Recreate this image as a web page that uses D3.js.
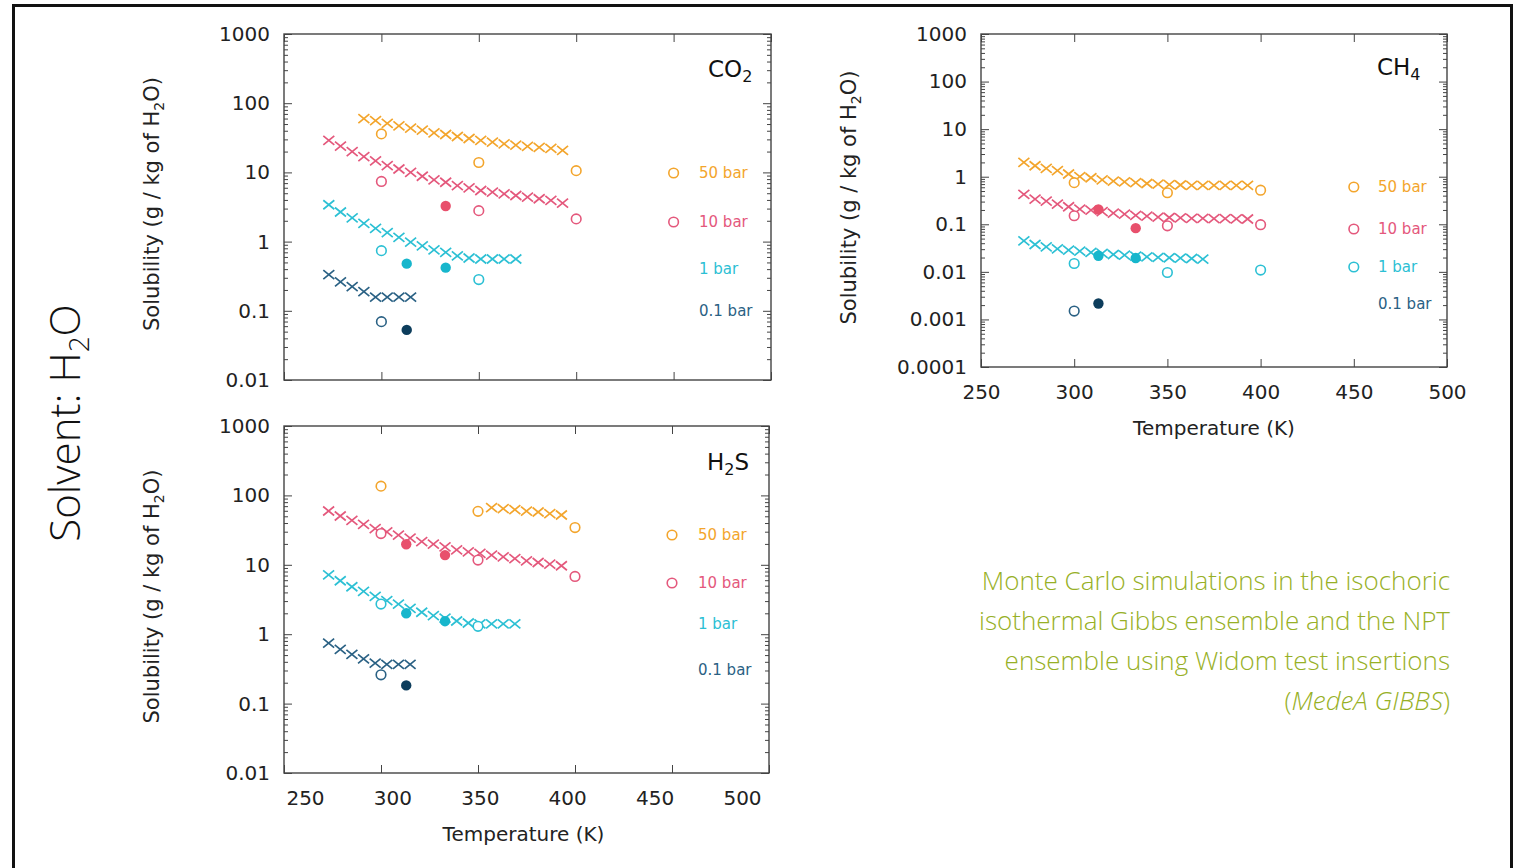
<!DOCTYPE html>
<html>
<head>
<meta charset="utf-8">
<script src="https://cdn.jsdelivr.net/npm/d3@7/dist/d3.min.js"></script>
<style>
body { margin:0; background:#fff; }
svg { display:block; }
</style>
</head>
<body>
<div id="chart"></div>
<script>
// temperatures (K)
var tCross = [273,279,285,291,297,303,309,315,321,327,333,339,345,351,357,363,369,375,381,387,393];
var tSim = [300,350,400];
var tExp = [313,333];

var xTicks = [250,300,350,400,450,500];
var yTicks = [0.0001,0.001,0.01,0.1,1,10,100,1000];
var pressures = ["50 bar","10 bar","1 bar","0.1 bar"];
var lineColors = ["#F3A52C","#E4587C","#2CC0D4","#2A6184"];
var dotColors = ["#F3A52C","#E8506C","#17B6CC","#0D3D5C"];

// CO2 solubility (g / kg of H2O)
var co2X50 = [60,56,51,47,43.5,40.7,37.3,35.3,33,30.9,29,27.4,25.9,24.8,23.8,23,22.3,20.8];
var co2X10 = [29,24,20,16.9,14.7,12.5,11.2,10,8.8,7.8,7.2,6.45,5.97,5.47,5.18,4.9,4.64,4.4,4.16,3.94,3.6];
var co2X1 = [3.41,2.68,2.2,1.83,1.55,1.35,1.15,0.98,0.87,0.76,0.70,0.62,0.58,0.56,0.56,0.56,0.56];
var co2X01 = [0.334,0.262,0.223,0.189,0.158,0.158,0.158,0.158];
var co2S50 = [36,13.9,10.6];
var co2S10 = [7.4,2.8,2.13];
var co2S1 = [0.74,0.283,null];
var co2S01 = [0.0697,null,null];
var co2E10 = [null,3.27];
var co2E1 = [0.48,0.42];
var co2E01 = [0.053,null];

// CH4
var ch4X50 = [2.0,1.7,1.5,1.34,1.14,1.0,0.95,0.86,0.81,0.78,0.75,0.72,0.7,0.68,0.67,0.66,0.66,0.66,0.66,0.66,0.66];
var ch4X10 = [0.425,0.339,0.308,0.266,0.234,0.209,0.199,0.184,0.172,0.164,0.154,0.149,0.142,0.139,0.136,0.133,0.133,0.131,0.131,0.13,0.129];
var ch4X1 = [0.045,0.0376,0.0336,0.0305,0.0286,0.0273,0.0256,0.0244,0.0232,0.0225,0.0214,0.0207,0.0201,0.0198,0.0195,0.0191,0.0185];
var ch4S50 = [0.75,0.46,0.52];
var ch4S10 = [0.151,0.093,0.098];
var ch4S1 = [0.015,0.0097,0.0109];
var ch4S01 = [0.0015,null,null];
var ch4E10 = [0.206,0.083];
var ch4E1 = [0.0218,0.0195];
var ch4E01 = [0.00216,null];

// H2S
var h2sX50 = [66.6,64.4,62.3,59.5,57.6,54.6,52.2];
var h2sX10 = [59.6,50.5,43.7,38.3,33.3,29.8,26.7,24.2,21.6,19.8,18.1,16.4,15.4,14.6,13.8,13.0,12.3,11.4,10.8,10.2,9.7];
var h2sX1 = [7.18,5.89,4.83,4.14,3.51,3.04,2.72,2.36,2.07,1.85,1.70,1.55,1.45,1.41,1.41,1.41,1.41];
var h2sX01 = [0.743,0.603,0.511,0.442,0.384,0.367,0.367,0.367];
var h2sS50 = [136,58.9,34.4];
var h2sS10 = [28.2,11.7,6.8];
var h2sS1 = [2.72,1.30,null];
var h2sS01 = [0.26,null,null];
var h2sE10 = [19.8,13.8];
var h2sE1 = [2.0,1.54];
var h2sE01 = [0.183,null];

var svg = d3.select("#chart").append("svg")
	.attr("width",1521)
	.attr("height",868);

// slide frame
svg.append("rect")
	.attr("x",13.5).attr("y",5.5)
	.attr("width",1498).attr("height",900)
	.attr("fill","none").attr("stroke","#111").attr("stroke-width",3);

var tickFont = "DejaVu Sans, Verdana, sans-serif";

var panels = [
	{name:"CO", sub:"2", after:"", left:284, top:34, w:487, h:346, yMin:0.01,
	 nameX:424, nameY:43, xLabels:null, legX:415,
	 legend:[[0,139,true],[1,188,true],[2,235,false],[3,277,false]],
	 series:[[0,co2X50,3,co2S50,[null,null]],[1,co2X10,0,co2S10,co2E10],[2,co2X1,0,co2S1,co2E1],[3,co2X01,0,co2S01,co2E01]]},
	{name:"CH", sub:"4", after:"", left:981, top:34, w:466, h:333, yMin:0.0001,
	 nameX:396, nameY:41, xLabels:[0,466], legX:397,
	 legend:[[0,153,true],[1,195,true],[2,233,true],[3,270,false]],
	 series:[[0,ch4X50,0,ch4S50,[null,null]],[1,ch4X10,0,ch4S10,ch4E10],[2,ch4X1,0,ch4S1,ch4E1],[3,[],0,ch4S01,ch4E01]]},
	{name:"H", sub:"2", after:"S", left:284, top:426, w:485, h:347, yMin:0.01,
	 nameX:423, nameY:44, xLabels:[21,458], legX:414,
	 legend:[[0,109,true],[1,157,true],[2,198,false],[3,244,false]],
	 series:[[0,h2sX50,14,h2sS50,[null,null]],[1,h2sX10,0,h2sS10,h2sE10],[2,h2sX1,0,h2sS1,h2sE1],[3,h2sX01,0,h2sS01,h2sE01]]}
];

var isMajor = v => Math.abs(Math.log10(v) - Math.round(Math.log10(v))) < 1e-6;

function styleAxis(sel) {
	sel.select(".domain").remove();
	sel.selectAll("line").attr("stroke","#444").attr("stroke-width",1);
	sel.selectAll("text").attr("font-family",tickFont).attr("font-size",20).attr("fill","#222");
}

function yTitle(g, p) {
	var t = g.append("text")
		.attr("transform","translate("+(-125)+","+(p.h/2 - 3)+") rotate(-90)")
		.attr("text-anchor","middle")
		.attr("font-family",tickFont).attr("font-size",21).attr("fill","#222");
	t.append("tspan").text("Solubility (g / kg of H");
	t.append("tspan").text("2").attr("font-size",14).attr("dy",5);
	t.append("tspan").text("O)").attr("dy",-5);
}

function xTitle(g, p, cx) {
	g.append("text")
		.attr("x",cx).attr("y",p.h+68)
		.attr("text-anchor","middle")
		.attr("font-family",tickFont).attr("font-size",20).attr("fill","#222")
		.text("Temperature (K)");
}

panels.forEach(p => {
	var g = svg.append("g").attr("transform","translate("+p.left+","+p.top+")");
	var x = d3.scaleLinear().domain([250,500]).range([0,p.w]);
	var y = d3.scaleLog().domain([p.yMin,1000]).range([p.h,0]);
	var major = yTicks.filter(v => v >= p.yMin);
	var minor = y.ticks().filter(v => !isMajor(v));

	g.append("g").call(d3.axisLeft(y).tickValues(major).tickSize(-8).tickPadding(14).tickFormat(d => String(d))).call(styleAxis);
	g.append("g").call(d3.axisLeft(y).tickValues(minor).tickSize(-4).tickFormat("")).call(styleAxis);
	g.append("g").attr("transform","translate("+p.w+",0)").call(d3.axisRight(y).tickValues(major).tickSize(-8).tickFormat("")).call(styleAxis);
	g.append("g").attr("transform","translate("+p.w+",0)").call(d3.axisRight(y).tickValues(minor).tickSize(-4).tickFormat("")).call(styleAxis);
	g.append("g").call(d3.axisTop(x).tickValues(xTicks).tickSize(-8).tickFormat("")).call(styleAxis);
	g.append("g").attr("transform","translate(0,"+p.h+")").call(d3.axisBottom(x).tickValues(xTicks).tickSize(-8).tickFormat("")).call(styleAxis);

	if (p.xLabels) {
		var xl = d3.scaleLinear().domain([250,500]).range(p.xLabels);
		g.append("g").attr("transform","translate(0,"+p.h+")")
			.call(d3.axisBottom(xl).tickValues(xTicks).tickSize(0).tickPadding(18).tickFormat(d => String(d)))
			.call(styleAxis);
		xTitle(g, p, (p.xLabels[0]+p.xLabels[1])/2);
	}

	g.append("rect").attr("width",p.w).attr("height",p.h)
		.attr("fill","none").attr("stroke","#444").attr("stroke-width",1.4);

	yTitle(g, p);

	// crosses
	p.series.forEach(s => {
		var pts = s[1].map((v,i) => ({T:tCross[s[2]+i], v:v}));
		g.append("g").selectAll("path").data(pts).enter().append("path")
			.attr("d","M-5.5,-4.5L5.5,4.5M-5.5,4.5L5.5,-4.5")
			.attr("transform",d => "translate("+x(d.T)+","+y(d.v)+")")
			.attr("fill","none").attr("stroke",lineColors[s[0]]).attr("stroke-width",1.7);
	});
	// open circles (simulations)
	p.series.forEach(s => {
		var pts = tSim.map((T,i) => ({T:T, v:s[3][i]})).filter(d => d.v != null);
		g.append("g").selectAll("circle").data(pts).enter().append("circle")
			.attr("cx",d => x(d.T)).attr("cy",d => y(d.v)).attr("r",4.8)
			.attr("fill","#fff").attr("stroke",lineColors[s[0]]).attr("stroke-width",1.6);
	});
	// filled circles
	p.series.forEach(s => {
		var pts = tExp.map((T,i) => ({T:T, v:s[4][i]})).filter(d => d.v != null);
		g.append("g").selectAll("circle").data(pts).enter().append("circle")
			.attr("cx",d => x(d.T)).attr("cy",d => y(d.v)).attr("r",5.2)
			.attr("fill",dotColors[s[0]]);
	});

	// key
	p.legend.forEach(r => {
		if (r[2]) g.append("circle").attr("cx",x(450)).attr("cy",r[1]).attr("r",4.8)
			.attr("fill","none").attr("stroke",lineColors[r[0]]).attr("stroke-width",1.6);
		g.append("text").attr("x",p.legX).attr("y",r[1]).attr("dy","0.35em")
			.attr("font-family",tickFont).attr("font-size",15)
			.attr("fill",lineColors[r[0]]).text(pressures[r[0]]);
	});

	// gas name
	var nm = g.append("text").attr("x",p.nameX).attr("y",p.nameY)
		.attr("font-family",tickFont).attr("font-size",23).attr("fill","#111");
	nm.append("tspan").text(p.name);
	nm.append("tspan").text(p.sub).attr("font-size",16).attr("dy",5);
	if (p.after) nm.append("tspan").text(p.after).attr("dy",-5);
});

// Solvent label
var sv = svg.append("text")
	.attr("transform","translate(80,423) rotate(-90)")
	.attr("text-anchor","middle")
	.attr("font-family","Open Sans, sans-serif").attr("font-weight",300)
	.attr("font-size",42).attr("fill","#111");
sv.append("tspan").text("Solvent: H");
sv.append("tspan").text("2").attr("font-size",28).attr("dy",9);
sv.append("tspan").text("O").attr("dy",-9);

// method note
var noteLines = ["Monte Carlo simulations in the isochoric",
	"isothermal Gibbs ensemble and the NPT",
	"ensemble using Widom test insertions"];
var note = svg.append("g")
	.attr("font-family","Open Sans, sans-serif").attr("font-weight",300)
	.attr("font-size",26).attr("fill","#97B026").attr("text-anchor","end");
noteLines.forEach((l,i) => {
	note.append("text").attr("x",1450).attr("y",590+i*40).text(l);
});
var last = note.append("text").attr("x",1450).attr("y",710);
last.append("tspan").text("(");
last.append("tspan").text("MedeA GIBBS").attr("font-style","italic");
last.append("tspan").text(")");
</script>
</body>
</html>
